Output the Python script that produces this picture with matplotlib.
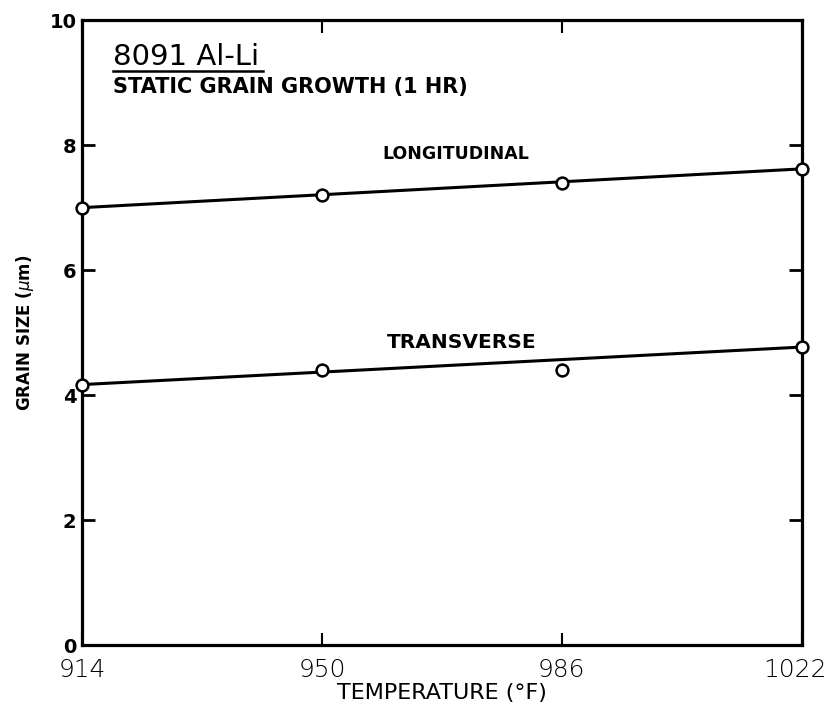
import matplotlib
matplotlib.use("Agg")
import matplotlib.pyplot as plt
from matplotlib.transforms import ScaledTranslation

temps = [914, 950, 986, 1022]
longitudinal = [7.0, 7.2, 7.4, 7.62]
transverse = [4.17, 4.4, 4.4, 4.77]
line_x = [914, 1022]
long_line = [7.0, 7.62]
trans_line = [4.17, 4.77]
xticks = [914, 950, 986, 1022]
yticks = [0, 2, 4, 6, 8, 10]

fig = plt.figure(figsize=(8.29, 7.17), dpi=100)
ax = fig.add_axes([0.099, 0.100, 0.868, 0.872])

ax.plot(line_x, long_line, color='black', lw=2.2, zorder=2)
ax.plot(line_x, trans_line, color='black', lw=2.2, zorder=2)
ax.plot(temps, longitudinal, 'o', mfc='white', mec='black', ms=8.5, mew=1.8, zorder=3, clip_on=False)
ax.plot(temps, transverse, 'o', mfc='white', mec='black', ms=8.5, mew=1.8, zorder=3, clip_on=False)

ax.set_xlim(914, 1022)
ax.set_ylim(0, 10)
for s in ax.spines.values():
    s.set_linewidth(2.3)

ax.set_yticks(yticks)
ax.set_yticklabels([str(v) for v in yticks], fontsize=14, fontweight='bold', family='DejaVu Sans')
ax.tick_params(axis='y', direction='in', length=9.5, width=2, left=True, right=True, pad=4)
ax.set_xticks(xticks)
ax.set_xticklabels([str(v) for v in xticks], fontsize=18, family='DejaVu Sans', fontweight='light')
ax.tick_params(axis='x', direction='in', length=9, width=1.5, top=True, bottom=True, pad=9)
last = ax.get_xticklabels()[-1]
last.set_transform(last.get_transform() + ScaledTranslation(-5 / 72, 0, fig.dpi_scale_trans))

ax.set_xlabel('TEMPERATURE (°F)', fontsize=16, family='DejaVu Sans', labelpad=1)
ax.set_ylabel('GRAIN SIZE ($\\mu$m)', fontsize=12, fontweight='bold', family='DejaVu Sans', labelpad=10)

ax.text(0.043, 0.928, '8091 Al-Li', transform=ax.transAxes, fontsize=21,
        family='DejaVu Sans', va='baseline')
ax.plot([0.043, 0.251], [0.919, 0.919], transform=ax.transAxes, color='black', lw=1.8, clip_on=False)
ax.text(0.043, 0.884, 'STATIC GRAIN GROWTH (1 HR)', transform=ax.transAxes, fontsize=15,
        fontweight='bold', family='DejaVu Sans', va='baseline')

def px_to_data(px):
    return 914 + (px - 82) / (802 - 82) * (1022 - 914)

ax.text(px_to_data(456), 7.86, 'LONGITUDINAL', fontsize=12.5, fontweight='bold', ha='center', va='center',
        family='DejaVu Sans')
ax.text(px_to_data(462), 4.85, 'TRANSVERSE', fontsize=14.5, fontweight='bold', ha='center', va='center',
        family='DejaVu Sans')

fig.savefig('out.png', dpi=100)
